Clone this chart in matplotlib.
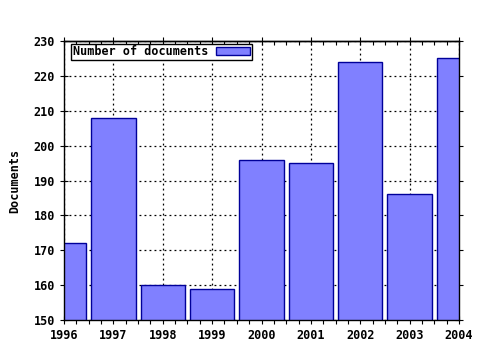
import matplotlib
matplotlib.use("Agg")
import matplotlib.pyplot as plt
from matplotlib.ticker import MultipleLocator, AutoMinorLocator

years = [1996, 1997, 1998, 1999, 2000, 2001, 2002, 2003, 2004]
documents = [172, 208, 160, 159, 196, 195, 224, 186, 225]
series_label = "Number of documents"
y_label = "Documents"

plt.rcParams['font.family'] = ['DejaVu Sans Mono']
plt.rcParams['font.weight'] = 'bold'

fig = plt.figure(figsize=(4.8, 3.5), dpi=100)
ax = fig.add_axes([64/480, 30/350, (459-64)/480, (320-41)/350])

ax.bar(years, documents, width=0.9, color='#8080ff', edgecolor='#000099',
       linewidth=1.0, label=series_label, zorder=2)
ax.set_xlim(1996, 2004)
ax.set_ylim(150, 230)
ax.set_xticks(years)
ax.set_xticklabels([str(y) for y in years])
ax.yaxis.set_major_locator(MultipleLocator(10))
ax.xaxis.set_minor_locator(AutoMinorLocator(4))
ax.grid(True, which='major', linestyle=(0, (1.5, 2.5)), color='black', linewidth=0.9, zorder=1)
ax.set_axisbelow(True)
ax.tick_params(axis='both', which='major', direction='inout', length=6, labelsize=8.5,
               top=False, right=True, width=0.8)
ax.tick_params(axis='x', which='minor', direction='out', length=3, top=False, width=0.8)

top = ax.secondary_xaxis('top')
top.set_xticks(years)
top.xaxis.set_minor_locator(AutoMinorLocator(4))
top.tick_params(axis='x', which='major', direction='inout', length=6, labeltop=False, width=0.8)
top.tick_params(axis='x', which='minor', direction='in', length=3, width=0.8)
top.spines['top'].set_linewidth(1.0)

for lbl in ax.get_xticklabels() + ax.get_yticklabels():
    lbl.set_fontweight('bold')
for s in ax.spines.values():
    s.set_linewidth(1.0)
ax.set_ylabel(y_label, fontsize=8.5, fontweight='bold', labelpad=9)

leg = ax.legend(loc='upper left', bbox_to_anchor=(0.018, 0.99), markerfirst=False,
                fancybox=False, framealpha=1,
                edgecolor='black', prop={'size': 8.5, 'weight': 'bold'},
                handlelength=2.9, handleheight=0.6, borderpad=0.12, borderaxespad=0.0,
                handletextpad=0.7)
leg.get_frame().set_linewidth(1.0)

fig.savefig("out.png", dpi=100)
